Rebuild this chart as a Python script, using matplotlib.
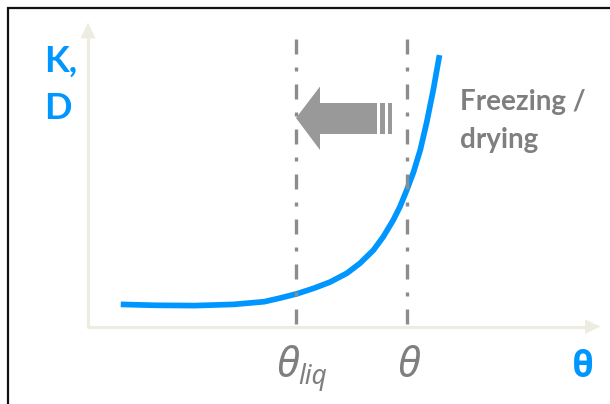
import matplotlib
matplotlib.use('Agg')
import matplotlib.pyplot as plt
from matplotlib.patches import Polygon, Rectangle

# curve K,D vs theta (units: theta axis, K axis)
theta = [0.63, 1.30, 2.05, 2.80, 3.39, 3.69, 4.01, 4.33, 4.65, 4.98, 5.23,
         5.49, 5.68, 5.87, 6.00, 6.13, 6.26, 6.39, 6.51, 6.64, 6.76]
kd = [0.72, 0.69, 0.68, 0.72, 0.81, 0.93, 1.07, 1.25, 1.46, 1.76, 2.09,
      2.53, 2.98, 3.53, 3.98, 4.53, 5.13, 5.87, 6.76, 7.87, 9.03]
theta_liq = 4.0
theta_now = 6.13

blue = '#0096FF'
gray_txt = '#7F7F7F'
axis_col = '#EEECE1'

fig = plt.figure(figsize=(6.10, 4.04), dpi=100)
ax = fig.add_axes([0, 0, 1, 1])
ax.set_xlim(-88 / 52, (610 - 88) / 52)
ax.set_ylim(-78 / 30, 326 / 30)
ax.axis('off')

# px -> data helper for decorations
def P(x, y):
    return ((x - 88) / 52, (326 - y) / 30)

# frame
fig.patches.append(Rectangle((7.5 / 610, -0.1), 1.2, 1 - 7.5 / 404 + 0.1,
                             transform=fig.transFigure, fill=False,
                             edgecolor='#111111', lw=1.6))

# axes with arrows
ax.plot(*zip(P(88, 38), P(88, 326.5), P(586, 326.5)), color=axis_col, lw=2.2,
        solid_capstyle='butt')
ax.add_patch(Polygon([P(88, 22.5), P(80.5, 38.5), P(95.5, 38.5)], closed=True,
                     color=axis_col, lw=0))
ax.add_patch(Polygon([P(600.5, 326.5), P(585, 319.5), P(585, 334), ], closed=True,
                     color=axis_col, lw=0))

# curve
ax.plot(theta, kd, color=blue, lw=4.1, solid_capstyle='butt', zorder=3)

# dash-dot vertical lines (drawn over the curve)
for xv in [theta_liq, theta_now]:
    ax.plot([xv, xv], [P(0, 39)[1], 0], color='#8C8C8C', lw=2.4,
            linestyle=(0, (4.5, 3.9, 1.2, 3.9)), dash_capstyle='butt', zorder=4)

# block arrow
ax.add_patch(Polygon([P(296, 118), P(320, 86.5), P(320, 103), P(377, 103),
                      P(377, 134), P(320, 134), P(320, 150)], closed=True,
                     color='#999999', lw=0, zorder=5))
for x0, x1 in [(380, 385), (388, 392)]:
    ax.add_patch(Polygon([P(x0, 103), P(x1, 103), P(x1, 134), P(x0, 134)],
                         closed=True, color='#999999', lw=0, zorder=5))

fam = ['Lato', 'DejaVu Sans']
ax.text(*P(44, 72), 'K,', color=blue, fontsize=26, fontweight='bold',
        family=fam, va='baseline')
ax.text(*P(44, 119), 'D', color=blue, fontsize=26, fontweight='bold',
        family=fam, va='baseline')
ax.text(*P(460, 110), 'Freezing /', color=gray_txt, fontsize=20,
        fontweight='bold', family=fam, va='baseline')
ax.text(*P(460, 148), 'drying', color=gray_txt, fontsize=20,
        fontweight='bold', family=fam, va='baseline')

tfam = ['Noto Sans', 'DejaVu Sans']
ax.text(*P(287, 377), 'θ', color=gray_txt, fontsize=30, fontstyle='italic',
        family=tfam, ha='center', va='baseline')
ax.text(*P(298, 384), 'liq', color=gray_txt, fontsize=19, fontstyle='italic',
        family=tfam, ha='left', va='baseline')
ax.text(*P(408, 377), 'θ', color=gray_txt, fontsize=30, fontstyle='italic',
        family=tfam, ha='center', va='baseline')
ax.text(*P(583, 377), 'θ', color=blue, fontsize=27, fontweight='bold',
        family=['Roboto', 'DejaVu Sans'], ha='center', va='baseline')

fig.savefig('out.png', dpi=100)
